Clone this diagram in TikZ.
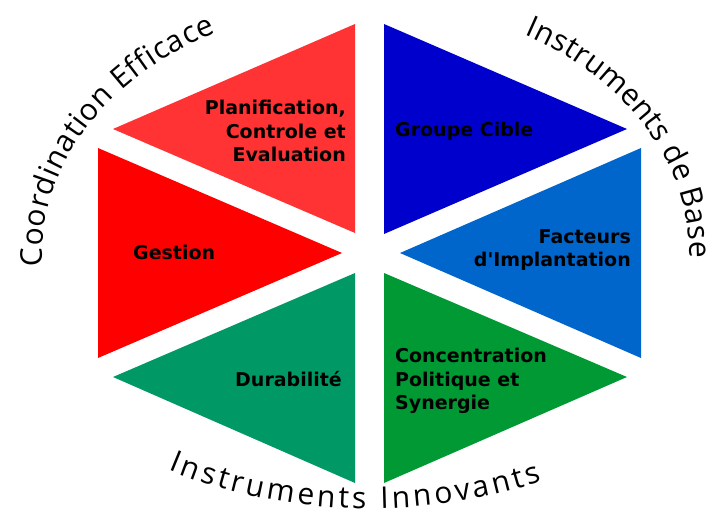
\documentclass[tikz,border=0pt]{standalone}
\usepackage{fontspec}
\newfontfamily\lblfont{DejaVu Sans}
\newfontfamily\ringfont{Open Sans}
\usetikzlibrary{decorations.text}

\definecolor{redlight}{HTML}{FF3333}
\definecolor{redfull}{HTML}{FF0000}
\definecolor{greenteal}{HTML}{009966}
\definecolor{greenleaf}{HTML}{009933}
\definecolor{bluedeep}{HTML}{0000CC}
\definecolor{bluesky}{HTML}{0066CC}

\begin{document}
\begin{tikzpicture}[x=1pt,y=1pt,
		lbl/.style={font=\lblfont\bfseries\fontsize{19}{23.5}\selectfont, inner sep=0pt},
		ring/.style={decorate, decoration={text along path, text align=fit to path,
			text={|\ringfont\fontsize{30}{30}\selectfont|#1}}}]
		\useasboundingbox (0,0) rectangle (713,-519);
		\coordinate (ctr) at (369.5,-253.5);

		\fill[redlight] (355,-24) -- (355,-233) -- (113,-129) -- cycle;
		\fill[redfull] (98,-148) -- (98,-358) -- (342,-253) -- cycle;
		\fill[greenteal] (355,-273) -- (355,-483) -- (113,-377) -- cycle;
		\fill[bluedeep] (384,-24) -- (384,-234) -- (627,-129) -- cycle;
		\fill[bluesky] (641,-148) -- (641,-358) -- (400,-253) -- cycle;
		\fill[greenleaf] (384,-273) -- (384,-483) -- (627,-377) -- cycle;

		\node[lbl, anchor=east, align=right] (planif) at (346,-131) {Planification,\\Controle et\\Evaluation};
		\node[lbl, anchor=base west] (gestion) at (133,-259) {Gestion};
		\node[lbl, anchor=base east] (durab) at (342,-386) {Durabilité};
		\node[lbl, anchor=base west] (groupe) at (395,-136) {Groupe Cible};
		\node[lbl, anchor=east, align=right] (facteurs) at (631,-250) {Facteurs\\d'Implantation};
		\node[lbl, anchor=west, align=left] (concent) at (395,-381) {Concentration\\Politique et\\Synergie};

		\path[ring={Coordination Efficace}] (ctr) ++(183:327 and 250) arc[start angle=183, end angle=118, x radius=327, y radius=250];
		\path[ring={Instruments de Base}] (ctr) ++(61:320 and 250) arc[start angle=61, end angle=-1, x radius=320, y radius=250];
		\path[ring={Instruments Innovants}] (ctr) ++(238:380 and 255) arc[start angle=238, end angle=297, x radius=380, y radius=255];
	\end{tikzpicture}
\end{document}
